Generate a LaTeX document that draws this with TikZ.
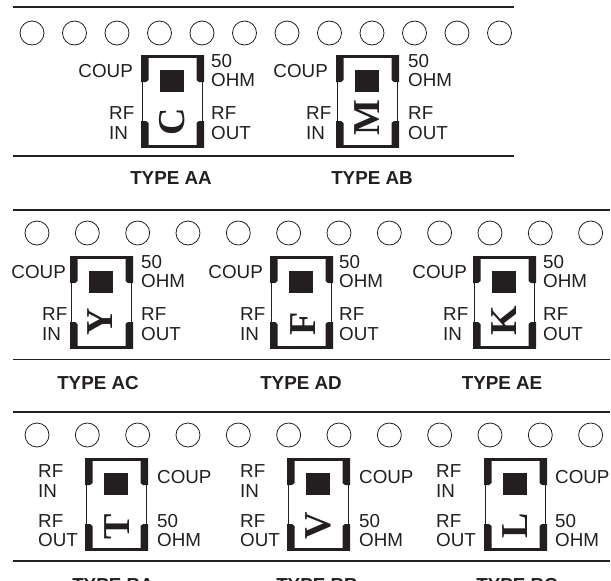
\documentclass[tikz,border=0pt]{standalone}
\usepackage{fontspec}
\setmainfont{Liberation Sans}
\newfontfamily\lettfont{Liberation Serif}[BoldFont={* Bold}]
\usetikzlibrary{calc}
\definecolor{ink}{HTML}{231F20}
\tikzset{
  x=1pt,y=-1pt,
  rail/.style={draw=ink,line width=1.7pt},
  hole/.style={draw=ink,line width=0.8pt,fill=white},
  lab/.style={anchor=base west,inner sep=0pt,text=ink,font=\fontsize{18.8}{18.8}\selectfont},
  labr/.style={lab,anchor=base east},
  typelab/.style={anchor=base,inner sep=0pt,text=ink,font=\fontsize{18.8}{18.8}\selectfont\bfseries},
  pad/.style={fill=ink,draw=none},
  outline/.style={draw=ink,line width=1.6pt},
  lett/.style={inner sep=0pt,rotate=90,text=ink,font=\fontsize{38}{38}\selectfont\lettfont\bfseries},
}
% #1 name, #2 left x, #3 top y, #4 letter, #5 letter dx, #6 letter dy
\newcommand{\compbody}[6]{%
  \begin{scope}[shift={(#2,#3)}]
    \draw[outline] (1.5,1) rectangle (61.5,91);
    \fill[pad] (0,0) -- (7.5,0) -- (7.5,25) -- (5,27) -- (0,27) -- cycle;
    \fill[pad] (0,92.5) -- (7.5,92.5) -- (7.5,68) -- (5,66) -- (0,66) -- cycle;
    \fill[pad] (63,0) -- (55.5,0) -- (55.5,25) -- (58,27) -- (63,27) -- cycle;
    \fill[pad] (63,92.5) -- (55.5,92.5) -- (55.5,68) -- (58,66) -- (63,66) -- cycle;
    \fill[pad] (0,0) rectangle (63,2.6);
    \fill[pad] (0,89.5) rectangle (63,92.5);
    \node[fill=ink,minimum width=24.5pt,minimum height=21.5pt,inner sep=0pt,anchor=north west] (#1sq) at (18.5,15) {};
    \node[lett] (#1let) at (#5,#6) {#4};
  \end{scope}}
% COUP at the left, 50 OHM at the right; #7 COUP right edge, #8 RF left edge, #9 right column
\newcommand{\compA}[9]{%
  \compbody{#1}{#2}{#3}{#4}{#5}{#6}
  \node[labr] (#1coup) at ($(#2,#3)+(#7,22)$) {COUP};
  \node[lab] (#1rfa) at ($(#2,#3)+(#8,64.5)$) {RF};
  \node[lab] (#1in) at ($(#2,#3)+(#8,84)$) {IN};
  \node[lab] (#1fif) at ($(#2,#3)+(#9,12.5)$) {50};
  \node[lab] (#1ohm) at ($(#2,#3)+(#9,31.5)$) {OHM};
  \node[lab] (#1rfb) at ($(#2,#3)+(#9,64.5)$) {RF};
  \node[lab] (#1out) at ($(#2,#3)+(#9,84)$) {OUT};
}
% RF IN / RF OUT at the left, COUP / 50 OHM at the right
\newcommand{\compB}[8]{%
  \compbody{#1}{#2}{#3}{#4}{#5}{#6}
  \node[lab] (#1rfa) at ($(#2,#3)+(#7,19)$) {RF};
  \node[lab] (#1in) at ($(#2,#3)+(#7,39)$) {IN};
  \node[lab] (#1rfb) at ($(#2,#3)+(#7,69)$) {RF};
  \node[lab] (#1out) at ($(#2,#3)+(#7,88)$) {OUT};
  \node[lab] (#1coup) at ($(#2,#3)+(#8,25)$) {COUP};
  \node[lab] (#1fif) at ($(#2,#3)+(#8,69)$) {50};
  \node[lab] (#1ohm) at ($(#2,#3)+(#8,88)$) {OHM};
}
\begin{document}
\begin{tikzpicture}
\useasboundingbox (0,0) rectangle (611,581);
\clip (0,0) rectangle (611,581);
% rails
\draw[rail] (13,7) -- (514,7);
\draw[rail] (13,156) -- (514,156);
\draw[rail] (13,210) -- (610,210);
\draw[rail] (13,359.5) -- (610,359.5);
\draw[rail] (13,412) -- (610,412);
\draw[rail] (13,561) -- (610,561);
% holes
\foreach \i in {0,...,11} {
  \node[hole,circle,minimum size=24pt,inner sep=0pt] (ha\i) at (32+42.5*\i,33) {};
  \node[hole,circle,minimum size=24pt,inner sep=0pt] (hb\i) at (37+50.33*\i,233) {};
  \node[hole,circle,minimum size=24pt,inner sep=0pt] (hc\i) at (37+50.33*\i,435) {};
}
% components
\compA{aa}{141}{55}{C}{31}{67}{-8}{-32}{70}
\compA{ab}{336}{55}{M}{31}{63}{-8}{-30}{72}
\compA{ac}{70}{256}{Y}{30}{66}{-4}{-28}{71}
\compA{ad}{270}{256}{F}{33}{68}{-7}{-30}{69}
\compA{ae}{473}{256}{K}{31}{65}{-6}{-30}{70}
\compB{ba}{85}{458}{T}{32}{69}{-47}{72}
\compB{bb}{287}{458}{V}{31}{68}{-47}{72}
\compB{bc}{484}{458}{L}{31}{68}{-48}{71}
% type labels
\node[typelab] (taa) at (171,184) {TYPE AA};
\node[typelab] (tab) at (372,184) {TYPE AB};
\node[typelab] (tac) at (98,389) {TYPE AC};
\node[typelab] (tad) at (301,389) {TYPE AD};
\node[typelab] (tae) at (502,389) {TYPE AE};
\node[typelab] (tba) at (113,591) {TYPE BA};
\node[typelab] (tbb) at (317,591) {TYPE BB};
\node[typelab] (tbc) at (517,591) {TYPE BC};
\end{tikzpicture}
\end{document}
